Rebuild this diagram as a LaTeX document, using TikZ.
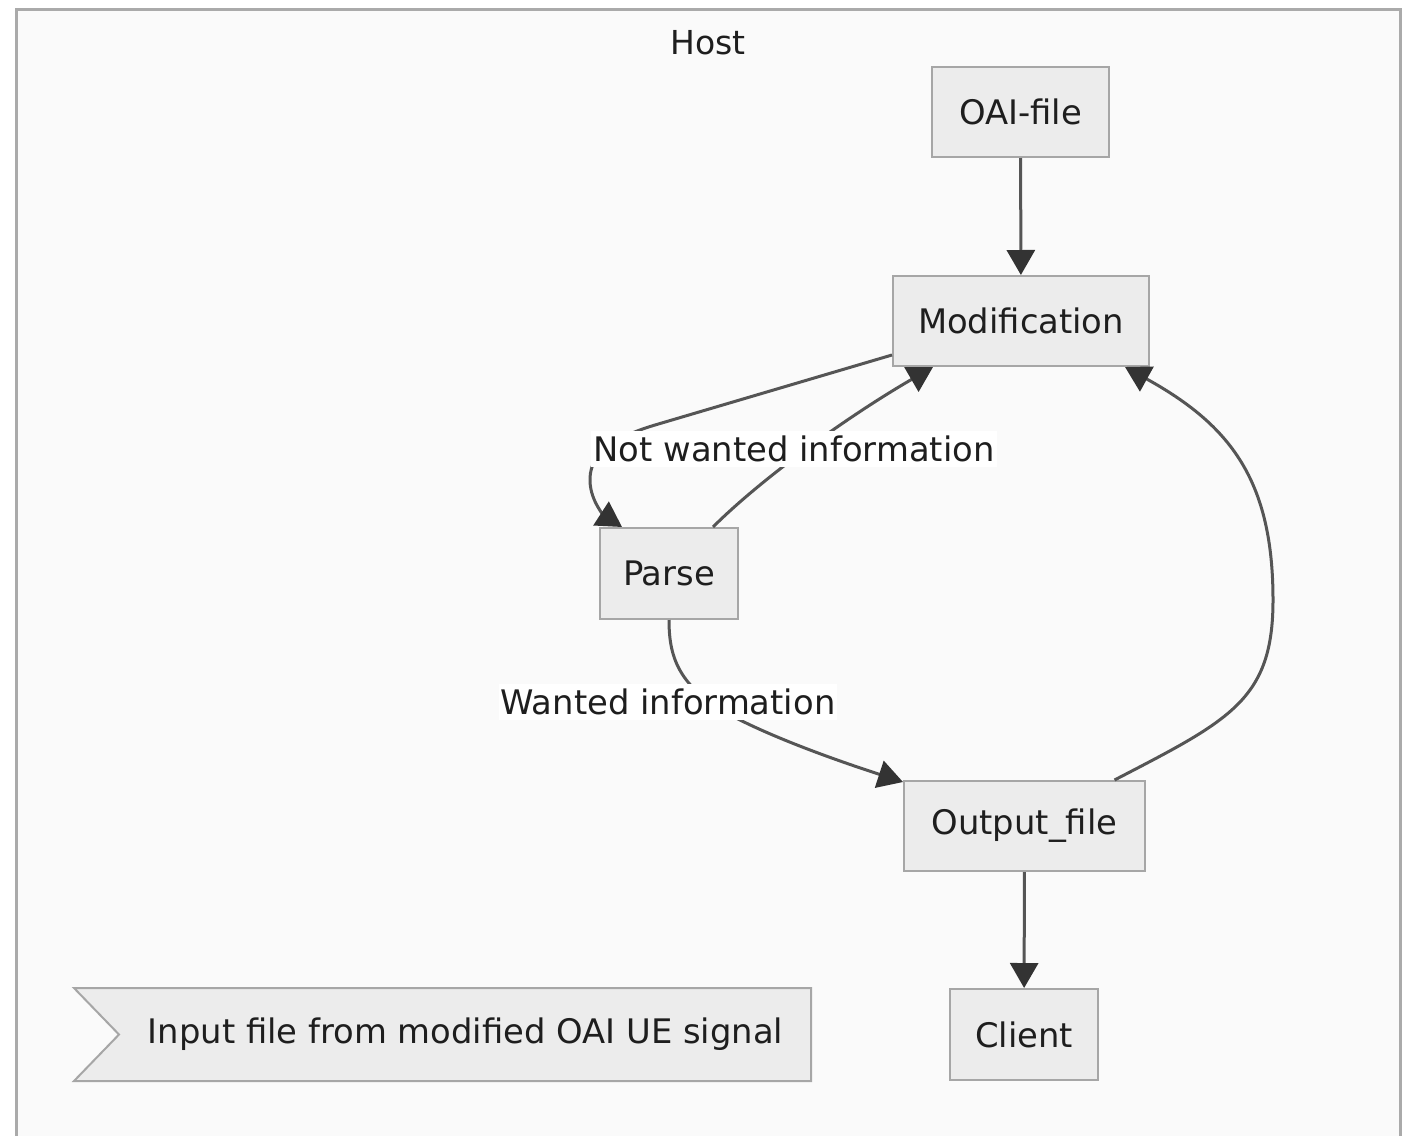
\documentclass[tikz,border=0pt]{standalone}
\usepackage{fontspec}
\setmainfont{DejaVu Sans}
\usetikzlibrary{arrows.meta,calc}
\definecolor{edgecol}{HTML}{555555}
\definecolor{tipcol}{HTML}{333333}
\definecolor{nodefill}{HTML}{ECECEC}
\definecolor{nodeline}{HTML}{A6A6A6}
\definecolor{bgcol}{HTML}{FAFAFA}
\definecolor{framecol}{HTML}{AAAAAA}
\definecolor{txtcol}{HTML}{1E1E1E}
\begin{document}
\begin{tikzpicture}[x=1pt,y=-1pt,
  box/.style={draw=nodeline,fill=nodefill,line width=2pt,inner sep=0pt,text=txtcol,font=\fontsize{33.8}{40}\selectfont},
  conn/.style={draw=edgecol,line width=3pt,-{Triangle[length=25pt,width=28pt,color=tipcol]}},
  lbl/.style={fill=white,inner xsep=2pt,inner ysep=5pt,text=txtcol,font=\fontsize{33.8}{40}\selectfont}]
\useasboundingbox (0,0) rectangle (1412,1135);
\begin{scope}
\clip (0,0) rectangle (1412,1135);
\fill[white] (0,0) rectangle (1412,1135);
\draw[fill=bgcol,draw=framecol,line width=3pt] (16,9) rectangle (1400,1160);
\end{scope}
\node[text=txtcol,font=\fontsize{33}{40}\selectfont] (host) at (708,43) {Host};

\node[box,minimum width=177pt,minimum height=90pt] (oai) at (1020.5,112) {OAI-file};
\node[box,minimum width=256pt,minimum height=90pt] (mod) at (1021,321) {Modification};
\node[box,minimum width=138pt,minimum height=91pt] (parse) at (669,573.5) {Parse};
\node[box,minimum width=241pt,minimum height=90pt] (out) at (1024.5,826) {Output\_file};
\node[box,minimum width=148pt,minimum height=91pt] (client) at (1024,1034.5) {Client};
\node[box,draw=none,fill=none,minimum width=735pt,minimum height=91pt] (inp) at (442.5,1034.5) {};
\fill[nodefill] (inp.north west) -- (inp.north east) -- (inp.south east) -- (inp.south west) -- ($(inp.west)+(45,0)$) -- cycle;
\draw[nodeline,line width=2pt] (inp.north west) -- (inp.north east) -- (inp.south east) -- (inp.south west) -- ($(inp.west)+(45,0)$) -- cycle;
\node[text=txtcol,font=\fontsize{33.8}{40}\selectfont] (inptext) at ($(inp.center)+(23,0)$) {Input file from modified OAI UE signal};

\draw[conn] (oai) -- (mod);
\draw[conn] (out) -- (client);
\draw[conn] ([yshift=12pt]mod.south west) -- (655,425) .. controls (605,440) and (589,458) .. (590,482) .. controls (591,502) and (605,516) .. ([xshift=-47pt]parse.north);
\draw[conn] ([xshift=44pt]parse.north) .. controls (760,480) and (845,418) .. ([xshift=-88pt]mod.south);
\draw[conn] (parse.south) .. controls (669,660) and (680,690) .. (740,720) .. controls (790,745) and (860,768) .. ([yshift=-2pt]out.north west);
\draw[conn] ([xshift=90pt]out.north) .. controls (1230,720) and (1273,700) .. (1273,600) .. controls (1273,480) and (1230,425) .. ([xshift=104pt]mod.south);

\node[lbl] (l1) at (794,449) {Not wanted information};
\node[lbl] (l2) at (668,702) {Wanted information};
\end{tikzpicture}
\end{document}
